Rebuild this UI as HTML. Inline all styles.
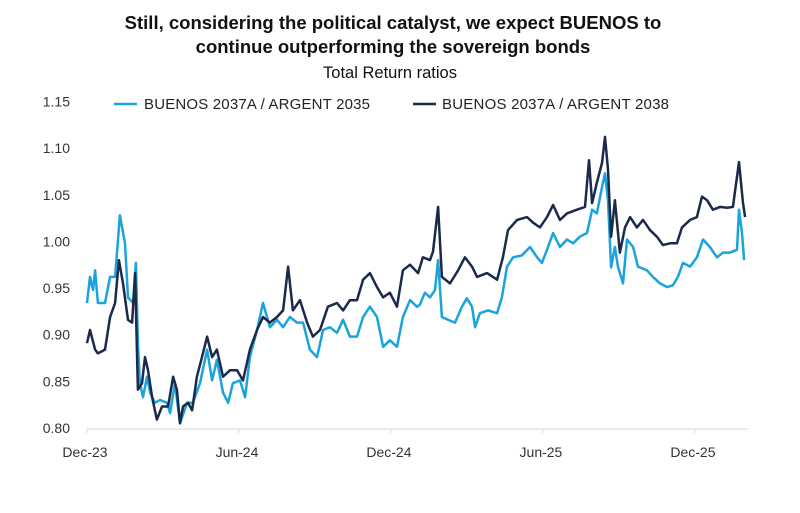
<!DOCTYPE html>
<html><head><meta charset="utf-8"><style>
body{margin:0;background:#fff;width:800px;height:508px;overflow:hidden;font-family:"Liberation Sans",sans-serif}
</style></head><body>
<svg id="chart" width="800" height="508" xmlns="http://www.w3.org/2000/svg" font-family="Liberation Sans, sans-serif">
<text x="393" y="29" text-anchor="middle" font-size="18.5" font-weight="bold" fill="#111">Still, considering the political catalyst, we expect BUENOS to</text>
<text x="393" y="53" text-anchor="middle" font-size="18.5" font-weight="bold" fill="#111">continue outperforming the sovereign bonds</text>
<text x="390" y="78" text-anchor="middle" font-size="16.5" fill="#111">Total Return ratios</text>
<g>
<line x1="114" y1="104" x2="137" y2="104" stroke="#1aa3dc" stroke-width="2.5"/>
<text x="144" y="109" font-size="15" fill="#222" textLength="226">BUENOS 2037A / ARGENT 2035</text>
<line x1="413" y1="104" x2="436" y2="104" stroke="#1b2a4a" stroke-width="2.5"/>
<text x="442" y="109" font-size="15" fill="#222" textLength="227">BUENOS 2037A / ARGENT 2038</text>
</g>
<g id="axes"></g>
<g id="series"></g>
</svg>
<script>
const yTicks=[0.80,0.85,0.90,0.95,1.00,1.05,1.10,1.15];
const xTickMonths=[0,6,12,18,24];
const xTickLabels=["Dec-23","Jun-24","Dec-24","Jun-25","Dec-25"];
const months2038=[0,0.12,0.32,0.43,0.71,0.91,1.11,1.26,1.42,1.62,1.78,1.9,1.97,2.01,2.17,2.29,2.41,2.57,2.76,2.96,3.2,3.4,3.55,3.67,3.79,3.99,4.15,4.34,4.54,4.74,4.94,5.13,5.37,5.65,5.92,6.16,6.43,6.71,6.95,7.22,7.5,7.74,7.94,8.13,8.41,8.69,8.92,9.2,9.51,9.87,10.11,10.38,10.66,10.9,11.17,11.45,11.69,11.96,12.24,12.47,12.75,13.07,13.26,13.54,13.66,13.86,14.01,14.33,14.65,14.92,15.2,15.4,15.79,16.19,16.42,16.62,16.98,17.37,17.61,17.88,18.16,18.4,18.67,18.95,19.34,19.66,19.82,19.94,20.13,20.33,20.45,20.57,20.69,20.84,21.04,21.24,21.44,21.71,21.95,22.23,22.5,22.74,23.02,23.29,23.49,23.81,24.08,24.28,24.48,24.71,24.99,25.27,25.5,25.74,25.9,25.98];
const values2038=[0.891,0.905,0.884,0.880,0.884,0.919,0.934,0.980,0.955,0.916,0.913,0.966,0.884,0.841,0.848,0.876,0.862,0.833,0.809,0.823,0.823,0.855,0.841,0.805,0.823,0.827,0.819,0.855,0.876,0.898,0.876,0.884,0.855,0.862,0.862,0.851,0.884,0.905,0.919,0.913,0.919,0.926,0.973,0.926,0.937,0.913,0.898,0.905,0.930,0.934,0.926,0.937,0.937,0.959,0.966,0.951,0.940,0.945,0.930,0.969,0.975,0.966,0.983,0.980,0.989,1.037,0.962,0.955,0.969,0.983,0.973,0.962,0.966,0.959,0.983,1.012,1.023,1.026,1.020,1.015,1.026,1.039,1.023,1.030,1.034,1.037,1.087,1.041,1.063,1.084,1.112,1.077,1.005,1.044,0.988,1.015,1.026,1.015,1.023,1.012,1.005,0.996,0.998,0.998,1.015,1.023,1.026,1.048,1.044,1.034,1.037,1.036,1.037,1.085,1.041,1.026];
const months2035=[0,0.12,0.24,0.32,0.43,0.71,0.91,1.11,1.3,1.5,1.62,1.82,1.93,2.01,2.09,2.21,2.37,2.49,2.68,2.88,3.16,3.28,3.47,3.67,3.95,4.18,4.46,4.74,4.94,5.13,5.37,5.57,5.76,6.04,6.24,6.43,6.71,6.95,7.22,7.5,7.74,8.01,8.29,8.53,8.8,9.08,9.32,9.59,9.87,10.11,10.38,10.66,10.9,11.17,11.45,11.69,11.96,12.24,12.47,12.75,13.03,13.14,13.34,13.54,13.74,13.86,14.01,14.25,14.53,14.8,15,15.2,15.32,15.51,15.83,16.19,16.38,16.58,16.82,17.17,17.49,17.77,17.96,18.16,18.4,18.67,18.95,19.19,19.46,19.74,19.94,20.13,20.33,20.45,20.57,20.69,20.84,20.96,21.16,21.32,21.56,21.75,22.11,22.34,22.62,22.9,23.13,23.33,23.53,23.81,24.08,24.32,24.59,24.87,25.11,25.38,25.66,25.74,25.86,25.94];
const values2035=[0.934,0.962,0.948,0.969,0.934,0.934,0.962,0.962,1.028,0.998,0.940,0.934,0.977,0.891,0.848,0.833,0.855,0.838,0.827,0.830,0.827,0.816,0.848,0.805,0.827,0.827,0.848,0.884,0.851,0.873,0.838,0.827,0.848,0.851,0.833,0.876,0.905,0.934,0.908,0.916,0.908,0.919,0.913,0.913,0.884,0.876,0.905,0.908,0.902,0.916,0.898,0.898,0.919,0.930,0.919,0.887,0.894,0.887,0.919,0.937,0.930,0.932,0.945,0.940,0.948,0.980,0.919,0.916,0.913,0.930,0.939,0.930,0.908,0.923,0.926,0.923,0.940,0.973,0.983,0.985,0.994,0.983,0.977,0.991,1.009,0.994,1.002,0.998,1.005,1.009,1.034,1.030,1.058,1.073,1.044,0.972,0.994,0.973,0.955,1.002,0.994,0.973,0.969,0.962,0.955,0.951,0.953,0.962,0.977,0.973,0.983,1.002,0.994,0.983,0.988,0.988,0.991,1.034,1.009,0.980];

const NS="http://www.w3.org/2000/svg";
const x0=87,pxPerMonth=25.33,y0=428,pxPerUnit=933;
function xScale(m){return x0+m*pxPerMonth;}
function yScale(v){return y0-(v-0.80)*pxPerUnit;}
const axes=document.getElementById('axes');
yTicks.forEach(v=>{
  const t=document.createElementNS(NS,'text');
  
  
  t.setAttribute('x',70);t.setAttribute('y',yScale(v)+5);
  t.setAttribute('text-anchor','end');t.setAttribute('font-size','14');t.setAttribute('fill','#333');
  t.textContent=v.toFixed(2);axes.appendChild(t);
});
const ax=document.createElementNS(NS,'line');


ax.setAttribute('x1',x0);ax.setAttribute('x2',748);ax.setAttribute('y1',y0+1);ax.setAttribute('y2',y0+1);
ax.setAttribute('stroke','#d9d9d9');ax.setAttribute('stroke-width','1');axes.appendChild(ax);
xTickMonths.forEach((m,i)=>{
  const tk=document.createElementNS(NS,'line');
  
  
  tk.setAttribute('x1',xScale(m));tk.setAttribute('x2',xScale(m));tk.setAttribute('y1',y0+1);tk.setAttribute('y2',y0+5);
  tk.setAttribute('stroke','#d9d9d9');axes.appendChild(tk);
  const t=document.createElementNS(NS,'text');
  
  
  t.setAttribute('x',xScale(m)-2);t.setAttribute('y',457);t.setAttribute('text-anchor','middle');
  t.setAttribute('font-size','14');t.setAttribute('fill','#333');
  t.textContent=xTickLabels[i];axes.appendChild(t);
});
const series=document.getElementById('series');
function draw(ms,vs,color,name){
  const p=document.createElementNS(NS,'path');
  
  
  p.setAttribute('d',ms.map((m,i)=>(i?'L':'M')+xScale(m).toFixed(1)+','+yScale(vs[i]).toFixed(1)).join(''));
  p.setAttribute('fill','none');p.setAttribute('stroke',color);p.setAttribute('stroke-width','2.5');p.setAttribute('stroke-linejoin','round');
  series.appendChild(p);
}
draw(months2035,values2035,'#1aa3dc','line-buenos-argent-2035');
draw(months2038,values2038,'#1b2a4a','line-buenos-argent-2038');
</script>
</body></html>
